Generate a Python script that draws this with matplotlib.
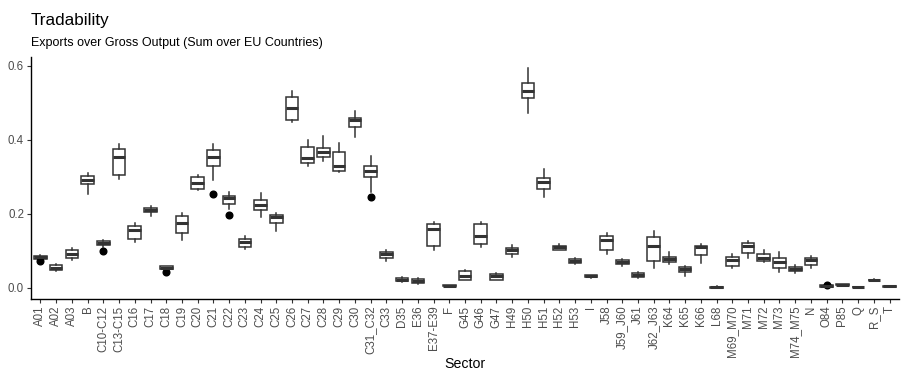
import matplotlib
matplotlib.use("Agg")
import matplotlib.pyplot as plt

plt.rcParams['font.family'] = ['Liberation Sans', 'DejaVu Sans']

sectors = ["A01", "A02", "A03", "B", "C10-C12", "C13-C15", "C16", "C17", "C18", "C19",
           "C20", "C21", "C22", "C23", "C24", "C25", "C26", "C27", "C28", "C29",
           "C30", "C31_C32", "C33", "D35", "E36", "E37-E39", "F", "G45", "G46", "G47",
           "H49", "H50", "H51", "H52", "H53", "I", "J58", "J59_J60", "J61", "J62_J63",
           "K64", "K65", "K66", "L68", "M69_M70", "M71", "M72", "M73", "M74_M75", "N",
           "O84", "P85", "Q", "R_S", "T"]

whislo = [0.076, 0.044, 0.074, 0.252, 0.110, 0.293, 0.124, 0.195, 0.047, 0.129,
          0.263, 0.290, 0.214, 0.105, 0.190, 0.153, 0.447, 0.329, 0.342, 0.312,
          0.407, 0.260, 0.072, 0.015, 0.011, 0.101, 0.003, 0.020, 0.109, 0.020,
          0.084, 0.471, 0.244, 0.101, 0.065, 0.027, 0.090, 0.058, 0.027, 0.053,
          0.063, 0.032, 0.067, 0.000, 0.052, 0.081, 0.069, 0.043, 0.040, 0.052,
          0.002, 0.007, 0.000, 0.020, 0.003]
q1 = [0.078, 0.047, 0.080, 0.279, 0.115, 0.306, 0.131, 0.204, 0.051, 0.147,
      0.268, 0.329, 0.226, 0.109, 0.209, 0.176, 0.453, 0.338, 0.354, 0.316,
      0.434, 0.298, 0.081, 0.017, 0.013, 0.113, 0.004, 0.022, 0.118, 0.022,
      0.091, 0.513, 0.266, 0.103, 0.068, 0.028, 0.103, 0.064, 0.029, 0.072,
      0.070, 0.042, 0.089, 0.000, 0.058, 0.094, 0.072, 0.052, 0.046, 0.062,
      0.003, 0.007, 0.001, 0.020, 0.003]
med = [0.082, 0.054, 0.091, 0.290, 0.121, 0.353, 0.156, 0.210, 0.054, 0.175,
       0.284, 0.353, 0.242, 0.124, 0.223, 0.190, 0.485, 0.350, 0.366, 0.328,
       0.453, 0.316, 0.090, 0.022, 0.019, 0.158, 0.005, 0.031, 0.139, 0.031,
       0.101, 0.532, 0.286, 0.109, 0.072, 0.031, 0.128, 0.069, 0.034, 0.112,
       0.077, 0.050, 0.109, 0.001, 0.074, 0.112, 0.081, 0.069, 0.051, 0.074,
       0.005, 0.008, 0.002, 0.021, 0.004]
q3 = [0.086, 0.061, 0.103, 0.303, 0.126, 0.376, 0.167, 0.215, 0.058, 0.194,
      0.300, 0.373, 0.248, 0.133, 0.238, 0.196, 0.516, 0.381, 0.379, 0.368,
      0.458, 0.330, 0.097, 0.026, 0.023, 0.173, 0.006, 0.044, 0.172, 0.038,
      0.108, 0.553, 0.297, 0.114, 0.077, 0.033, 0.140, 0.074, 0.041, 0.136,
      0.083, 0.055, 0.112, 0.003, 0.083, 0.121, 0.090, 0.080, 0.057, 0.081,
      0.008, 0.009, 0.003, 0.022, 0.005]
whishi = [0.089, 0.063, 0.107, 0.310, 0.130, 0.388, 0.174, 0.221, 0.060, 0.203,
          0.305, 0.389, 0.258, 0.139, 0.255, 0.201, 0.531, 0.400, 0.409, 0.391,
          0.477, 0.357, 0.101, 0.029, 0.025, 0.178, 0.007, 0.047, 0.177, 0.041,
          0.116, 0.595, 0.320, 0.117, 0.081, 0.034, 0.149, 0.077, 0.043, 0.153,
          0.096, 0.058, 0.117, 0.004, 0.090, 0.126, 0.103, 0.096, 0.061, 0.086,
          0.010, 0.010, 0.003, 0.023, 0.005]
outliers = {"A01": [0.071], "C10-C12": [0.100], "C18": [0.042], "C21": [0.253],
            "C22": [0.196], "C31_C32": [0.246], "O84": [0.008]}

title = "Tradability"
subtitle = "Exports over Gross Output (Sum over EU Countries)"
xlabel = "Sector"
yticks = [0.0, 0.2, 0.4, 0.6]

stats = []
for i, s in enumerate(sectors):
    stats.append(dict(label=s, whislo=whislo[i], q1=q1[i], med=med[i], q3=q3[i],
                      whishi=whishi[i], fliers=outliers.get(s, [])))

fig = plt.figure(figsize=(9.01, 3.74), dpi=100)
ax = fig.add_axes([31 / 901, 1 - 298.8 / 374, (899 - 31) / 901, (298.8 - 56.5) / 374])

edge = "#333333"
ax.bxp(stats, positions=list(range(len(sectors))), widths=0.8, patch_artist=True,
       showcaps=False,
       boxprops=dict(facecolor="white", edgecolor=edge, linewidth=1.1),
       medianprops=dict(color=edge, linewidth=2.2),
       whiskerprops=dict(color=edge, linewidth=1.1),
       flierprops=dict(marker="o", markerfacecolor="black", markeredgecolor="black",
                       markersize=4.8, linestyle="none"))

ax.set_xlim(-0.6, len(sectors) - 0.4)
ax.set_ylim(-0.03, 0.625)
ax.set_yticks(yticks)
ax.set_yticklabels([f"{v:.1f}" for v in yticks])
ax.set_xticks(range(len(sectors)))
ax.set_xticklabels(sectors, rotation=90, ha="center", va="top")

for sp in ["top", "right"]:
    ax.spines[sp].set_visible(False)
for sp in ["left", "bottom"]:
    ax.spines[sp].set_color("black")
    ax.spines[sp].set_linewidth(1.0)
ax.tick_params(axis="both", direction="out", length=3, width=0.8, color="#333333",
               labelcolor="#4D4D4D", labelsize=8.3, pad=2)

fig.text((31 + 899) / 2 / 901, 1 - 364 / 374, xlabel, fontsize=10.2, va="center", ha="center")
fig.text(31 / 901, 1 - 20 / 374, title, fontsize=12.3, va="center", ha="left")
fig.text(31 / 901, 1 - 43 / 374, subtitle, fontsize=9, va="center", ha="left")

fig.savefig("out.png", dpi=100)
